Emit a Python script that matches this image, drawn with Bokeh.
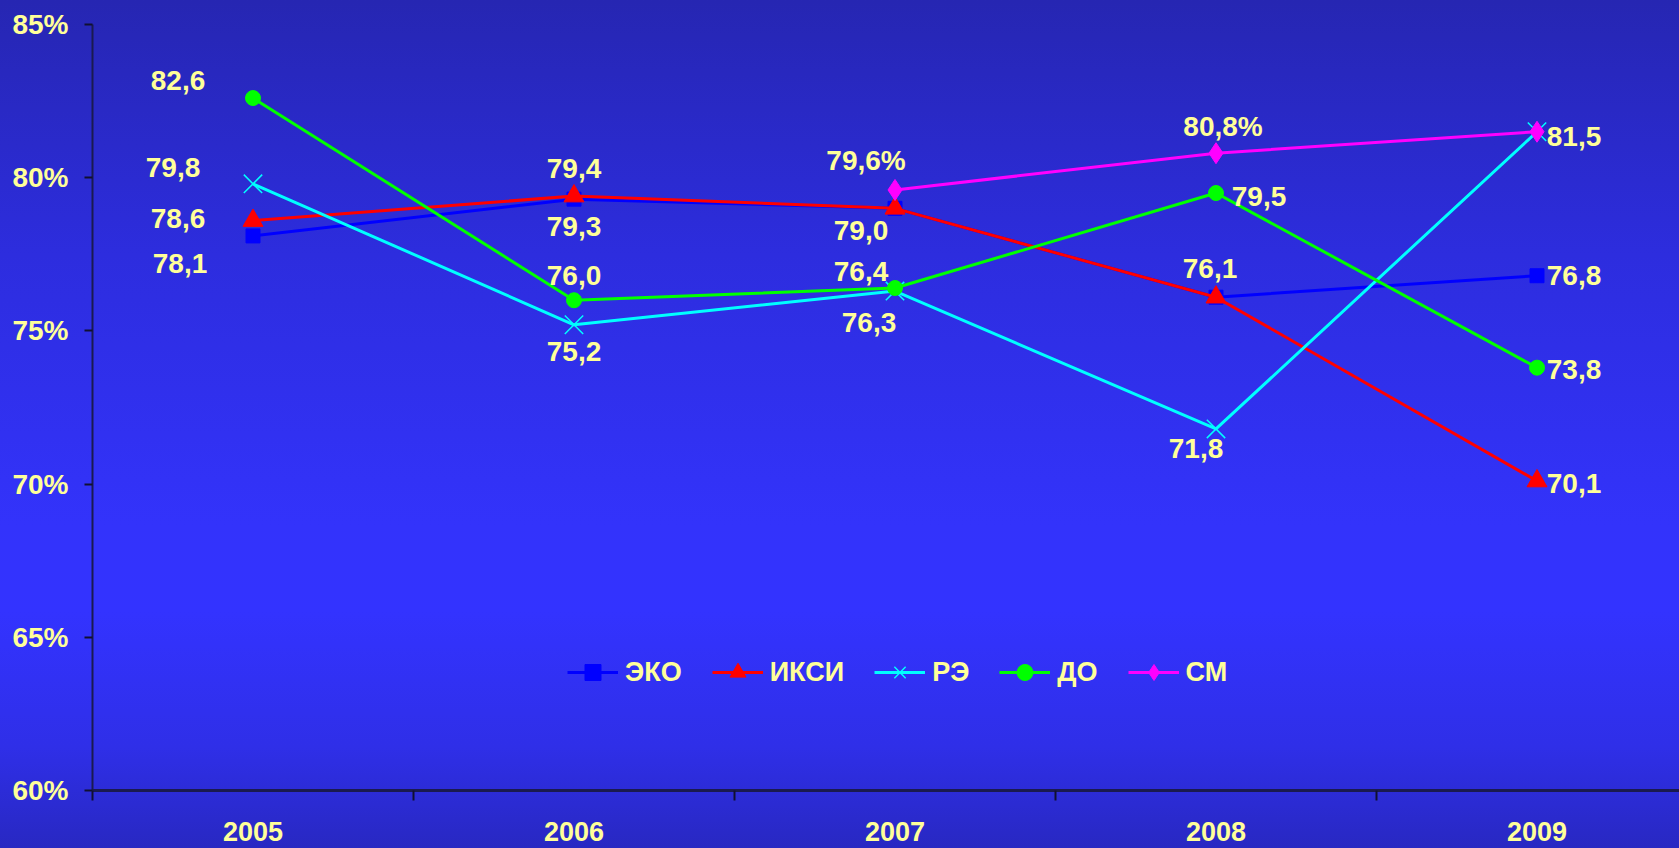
import math
from bokeh.plotting import figure
from bokeh.models import (Range1d, FixedTicker, PrintfTickFormatter, Legend, LegendItem,
                          ColumnDataSource, LinearAxis)
from bokeh.embed import file_html
from bokeh.resources import INLINE
from bokeh.core.properties import value

# ---------------- data ----------------
years = ["2005", "2006", "2007", "2008", "2009"]
series_names = ["ЭКО", "ИКСИ", "РЭ", "ДО", "СМ"]
eko = [78.1, 79.3, 79.0, 76.1, 76.8]
iksi = [78.6, 79.4, 79.0, 76.1, 70.1]
re_ = [79.8, 75.2, 76.3, 71.8, 81.5]
do_ = [82.6, 76.0, 76.4, 79.5, 73.8]
sm = [float("nan"), float("nan"), 79.6, 80.8, 81.5]
y_ticks = [60, 65, 70, 75, 80, 85]

# ---------------- styles ----------------
series_values = [eko, iksi, re_, do_, sm]
colors = ["#0000ff", "#ff0000", "#00ffff", "#00ff00", "#ff00ff"]
markers = ["square", "triangle", "x", "circle", "diamond"]
msizes = [14, 20, 26, 15, 21]
mline = [1, 1, 1.5, 1, 1]

# data labels: (series index, year index, suffix, dx, dy) ; dx/dy in screen px
labels_spec = [
    (3, 0, "", -75, -18), (2, 0, "", -80, -16), (1, 0, "", -75, -2), (0, 0, "", -73, 28),
    (1, 1, "", 0, -28), (0, 1, "", 0, 27), (3, 1, "", 0, -25), (2, 1, "", 0, 27),
    (4, 2, "%", -29, -29), (0, 2, "", -34, 22), (3, 2, "", -34, -17), (2, 2, "", -26, 31),
    (4, 3, "%", 7, -27), (3, 3, "", 43, 3), (0, 3, "", -6, -29), (2, 3, "", -20, 20),
    (2, 4, "", 37, 5), (0, 4, "", 37, 0), (3, 4, "", 37, 2), (1, 4, "", 37, 2),
]

FONT = "Liberation Sans"
TXT = "#ffff99"
AX = "#1a1a50"

W, H = 1679, 848
LEFT = 92
TOP = 24
BOTTOM = 58
CAT_W = 321.0
x_end = -0.5 + (W - LEFT) / CAT_W

p = figure(width=W, height=H, output_backend="svg", toolbar_location=None,
           x_range=Range1d(-0.5, x_end), y_range=Range1d(60, 85),
           min_border_left=LEFT, min_border_right=0, min_border_top=TOP, min_border_bottom=BOTTOM,
           x_axis_type=None, y_axis_type=None,
           styles={"background": "linear-gradient(to bottom, #2626b2 0%, #2d2dde 30%, #3333fb 62%, #3333ff 72%, #2f2fe8 88%, #2828c2 100%)"})
p.background_fill_alpha = 0
p.border_fill_alpha = 0
p.outline_line_color = None
p.xgrid.visible = False
p.ygrid.visible = False

# y axis
yax = LinearAxis(ticker=FixedTicker(ticks=y_ticks), formatter=PrintfTickFormatter(format="%d%%"))
yax.axis_line_color = AX
yax.axis_line_width = 2
yax.major_tick_line_color = "#101030"
yax.major_tick_line_width = 2
yax.major_tick_in = 0
yax.major_tick_out = 8
yax.minor_tick_line_color = None
yax.major_label_text_color = TXT
yax.major_label_text_font = FONT
yax.major_label_text_font_style = "bold"
yax.major_label_text_font_size = "28px"
yax.major_label_standoff = 16
p.add_layout(yax, "left")

# x axis: labels at category centres, tick marks at category boundaries
xax = LinearAxis(ticker=FixedTicker(ticks=list(range(len(years))),
                                    minor_ticks=[i - 0.5 for i in range(len(years) + 1)]))
xax.major_label_overrides = {i: y for i, y in enumerate(years)}
xax.axis_line_color = AX
xax.axis_line_width = 3
xax.major_tick_line_color = None
xax.major_tick_in = 0
xax.major_tick_out = 0
xax.minor_tick_line_color = "#101030"
xax.minor_tick_line_width = 2
xax.minor_tick_in = 0
xax.minor_tick_out = 10
xax.major_label_text_color = TXT
xax.major_label_text_font = FONT
xax.major_label_text_font_style = "bold"
xax.major_label_text_font_size = "27px"
xax.major_label_standoff = 21
p.add_layout(xax, "below")

xs = list(range(len(years)))
items = []
for name, vals, c, m, s, lw in zip(series_names, series_values, colors, markers, msizes, mline):
    src = ColumnDataSource(dict(x=xs, y=vals))
    lr = p.line("x", "y", source=src, line_color=c, line_width=3)
    sr = p.scatter("x", "y", source=src, marker=m, size=s, fill_color=c, line_color=c, line_width=lw)
    items.append(LegendItem(label=name, renderers=[lr, sr]))

# data labels
lx, ly, lt, ldx, ldy = [], [], [], [], []
for si, yi, suf, dx, dy in labels_spec:
    v = series_values[si][yi]
    lx.append(yi)
    ly.append(v)
    lt.append(f"{v:.1f}".replace(".", ",") + suf)
    ldx.append(dx)
    ldy.append(dy)
lsrc = ColumnDataSource(dict(x=lx, y=ly, t=lt, dx=ldx, dy=ldy))
p.text("x", "y", text="t", source=lsrc, x_offset="dx", y_offset="dy",
       text_align="center", text_baseline="middle", text_color=TXT,
       text_font=value(FONT), text_font_style="bold", text_font_size="28px")

legend = Legend(items=items, orientation="horizontal", location=(475, 98),
                background_fill_alpha=0, border_line_alpha=0,
                label_text_color=TXT, label_text_font=FONT, label_text_font_style="bold",
                label_text_font_size="27px", glyph_width=51, glyph_height=40, label_height=40,
                label_standoff=7, spacing=30, padding=0, margin=0)
p.add_layout(legend, "center")

open("out.html", "w").write(file_html(p, INLINE))
